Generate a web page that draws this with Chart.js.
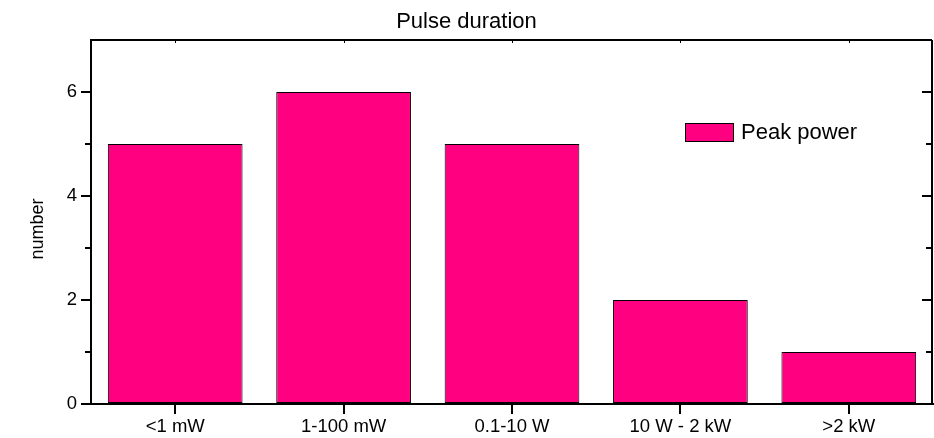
<!DOCTYPE html>
<html>
<head>
<meta charset="utf-8">
<script src="https://cdn.jsdelivr.net/npm/chart.js@4/dist/chart.umd.min.js"></script>
<style>
html,body{margin:0;padding:0;background:#fff;}
#wrap{width:934px;height:438px;position:relative;}
</style>
</head>
<body>
<div id="wrap"><canvas id="c" width="934" height="438"></canvas></div>
<script>
const categories = ["<1 mW", "1-100 mW", "0.1-10 W", "10 W - 2 kW", ">2 kW"];
const peakPower = [5, 6, 5, 2, 1];
const yMajorTicks = [0, 2, 4, 6];
const yMinorTicks = [1, 3, 5];
const seriesLabel = "Peak power";
const chartTitle = "Pulse duration";
const yTitle = "number";

const FONT = "'Liberation Sans', Arial, sans-serif";
const BAR = "#FF0080";

const framePlugin = {
  id: 'frame',
  afterDraw(chart) {
    const ctx = chart.ctx;
    const a = chart.chartArea;
    const y = chart.scales.y;
    const x = chart.scales.x;
    ctx.save();
    ctx.strokeStyle = '#000';
    ctx.lineWidth = 2;
    const L = Math.round(a.left), R = Math.round(a.right) - 1, T = Math.round(a.top), B = Math.round(a.bottom);
    ctx.beginPath();
    ctx.moveTo(L, T); ctx.lineTo(R, T);
    ctx.moveTo(R, T); ctx.lineTo(R, B);
    ctx.stroke();
    yMinorTicks.forEach(v => {
      const py = Math.round(y.getPixelForValue(v));
      ctx.beginPath();
      ctx.moveTo(L - 6, py); ctx.lineTo(L, py);
      ctx.moveTo(R, py); ctx.lineTo(R - 6, py);
      ctx.stroke();
    });
    yMajorTicks.forEach(v => {
      const py = Math.round(y.getPixelForValue(v));
      ctx.beginPath();
      ctx.moveTo(R, py); ctx.lineTo(R - 10, py);
      ctx.stroke();
    });
    ctx.lineWidth = 1;
    categories.forEach((c, i) => {
      const px = Math.round(x.getPixelForValue(i)) + 0.5;
      ctx.beginPath();
      ctx.moveTo(px, T); ctx.lineTo(px, T + 3);
      ctx.stroke();
    });
    // y axis title
    ctx.save();
    ctx.translate(38, (a.top + a.bottom) / 2 + 7);
    ctx.rotate(-Math.PI / 2);
    ctx.fillStyle = '#000';
    ctx.font = "18px " + FONT;
    ctx.textAlign = 'center';
    ctx.textBaseline = 'middle';
    ctx.fillText(yTitle, 0, 0);
    ctx.restore();
    // legend
    const bx = 685, by = 123, bw = 48, bh = 18;
    ctx.fillStyle = BAR;
    ctx.fillRect(bx, by, bw, bh);
    ctx.strokeStyle = '#000';
    ctx.lineWidth = 1;
    ctx.strokeRect(bx + 0.5, by + 0.5, bw, bh);
    ctx.fillStyle = '#000';
    ctx.font = "22px " + FONT;
    ctx.textBaseline = 'middle';
    ctx.textAlign = 'left';
    ctx.fillText(chart.data.datasets[0].label, 741, by + bh / 2 + 1);
    ctx.restore();
  }
};

new Chart(document.getElementById('c'), {
  type: 'bar',
  data: {
    labels: categories,
    datasets: [{
      label: seriesLabel,
      data: peakPower,
      backgroundColor: BAR,
      borderColor: '#000',
      borderWidth: 1,
      borderSkipped: false,
      barPercentage: 0.8,
      categoryPercentage: 1.0
    }]
  },
  options: {
    responsive: false,
    animation: false,
    devicePixelRatio: 1,
    layout: { padding: { left: 0, right: 1, top: 0, bottom: 0 } },
    plugins: {
      legend: { display: false },
      tooltip: { enabled: false },
      title: {
        display: true,
        text: chartTitle,
        color: '#000',
        font: { family: FONT, size: 22, weight: 'normal', lineHeight: 1.2 },
        padding: { top: 9, bottom: 4.6 }
      }
    },
    scales: {
      x: {
        type: 'category',
        offset: true,
        grid: { display: true, drawOnChartArea: false, offset: false, color: '#000', lineWidth: 2, tickLength: 10 },
        border: { display: true, color: '#000', width: 2 },
        ticks: { color: '#000', font: { family: FONT, size: 18.5 }, padding: 2, maxRotation: 0, autoSkip: false },
        afterFit(scale) { scale.height = 34; }
      },
      y: {
        min: 0,
        max: 7,
        afterBuildTicks(scale) { scale.ticks = yMajorTicks.map(v => ({ value: v })); },
        grid: { display: true, drawOnChartArea: false, color: '#000', lineWidth: 2, tickLength: 10 },
        border: { display: true, color: '#000', width: 2 },
        ticks: { color: '#000', font: { family: FONT, size: 18.5 }, padding: 4 },
        title: { display: false },
        afterFit(scale) { scale.width = 91; }
      }
    }
  },
  plugins: [framePlugin]
});
</script>
</body>
</html>
